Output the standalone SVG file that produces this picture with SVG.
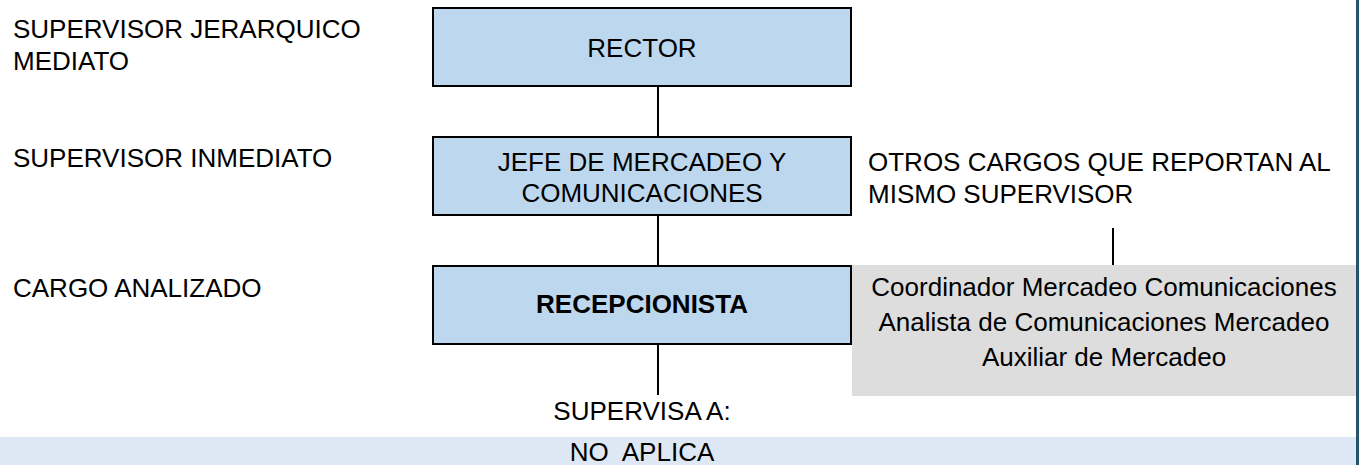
<svg xmlns="http://www.w3.org/2000/svg" width="1359" height="465" viewBox="0 0 1359 465">
<style>
text{font-family:"Liberation Sans",Arial,sans-serif;font-size:26px;fill:#000}
.c{text-anchor:middle}
.b{font-weight:bold}
.pre{white-space:pre}
.box{fill:#bdd7ee;stroke:#000;stroke-width:2}
.ln{stroke:#000;stroke-width:2;fill:none}
</style>
<rect x="0" y="0" width="1359" height="465" fill="#fff"/>
<g id="band">
<rect x="0" y="437" width="1357" height="28" fill="#dde8f4"/>
<text class="c pre" x="642" y="461" xml:space="preserve">NO  APLICA</text>
</g>
<line x1="1357.5" y1="0" x2="1357.5" y2="465" stroke="#24536a" stroke-width="3"/>
<g id="labels">
<text x="13" y="38">SUPERVISOR JERARQUICO</text>
<text x="13" y="70">MEDIATO</text>
<text x="13" y="167">SUPERVISOR INMEDIATO</text>
<text x="13" y="297">CARGO ANALIZADO</text>
<text class="c" x="642" y="420">SUPERVISA A:</text>
</g>
<g id="connectors">
<line class="ln" x1="658" y1="86" x2="658" y2="137"/>
<line class="ln" x1="658" y1="215" x2="658" y2="266"/>
<line class="ln" x1="658" y1="344" x2="658" y2="395"/>
<line class="ln" x1="1113" y1="228" x2="1113" y2="265"/>
</g>
<g id="rector">
<rect class="box" x="433" y="8" width="418" height="78"/>
<text class="c" x="642" y="57">RECTOR</text>
</g>
<g id="jefe">
<rect class="box" x="433" y="137" width="418" height="78"/>
<text class="c" x="642" y="171">JEFE DE MERCADEO Y</text>
<text class="c" x="642" y="202">COMUNICACIONES</text>
</g>
<g id="recepcionista">
<rect class="box" x="433" y="266" width="418" height="78"/>
<text class="c b" x="642" y="313">RECEPCIONISTA</text>
</g>
<g id="otros">
<text x="868" y="171">OTROS CARGOS QUE REPORTAN AL</text>
<text x="868" y="203">MISMO SUPERVISOR</text>
</g>
<g id="otros-list">
<rect x="852" y="265" width="504" height="131" fill="#dddddd"/>
<text class="c" x="1104" y="296">Coordinador Mercadeo Comunicaciones</text>
<text class="c" x="1104" y="331">Analista de Comunicaciones Mercadeo</text>
<text class="c" x="1104" y="366">Auxiliar de Mercadeo</text>
</g>
</svg>
